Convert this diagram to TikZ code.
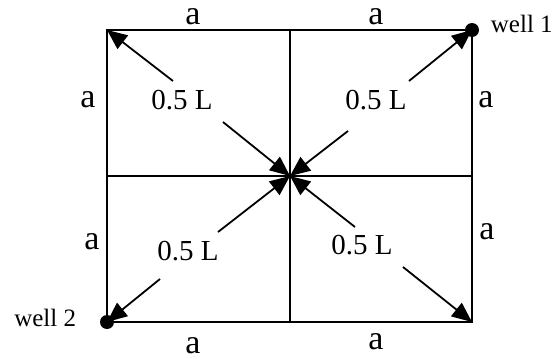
\documentclass[tikz,border=0pt]{standalone}
\usepackage{fontspec}
\setmainfont{Liberation Serif}
\usetikzlibrary{arrows.meta,positioning}

\begin{document}
\begin{tikzpicture}[x=0.5pt,y=-0.5pt,line width=0.9pt,
    dist/.style={-{Triangle[length=10pt,width=8.5pt]}},
    side/.style={font=\fontsize{17}{19}\selectfont,inner sep=1pt},
    lbl/.style={font=\fontsize{14.5}{16}\selectfont},
    wellname/.style={font=\fontsize{12.5}{14}\selectfont,inner sep=0pt}]
  \useasboundingbox (0,0) rectangle (558,359);
  % grid of four blocks
  \coordinate (TL) at (107,30);
  \coordinate (TR) at (472,30);
  \coordinate (BL) at (107,322);
  \coordinate (BR) at (472,322);
  \coordinate (C) at (290,176);
  \draw (TL) rectangle (BR);
  \draw (290,30) -- (290,322);
  \draw (107,176) -- (472,176);
  % side lengths
  \node[side] (aT1) at (193,17) {a};
  \node[side] (aT2) at (376,17) {a};
  \node[side] (aL1) at (88,100) {a};
  \node[side] (aL2) at (92,242) {a};
  \node[side] (aR1) at (486,100) {a};
  \node[side] (aR2) at (487,232) {a};
  \node[side] (aB1) at (193,346) {a};
  \node[side] (aB2) at (376,342) {a};
  % half diagonals
  \node[lbl] (dTL) at (182,100) {0.5 L};
  \node[lbl] (dTR) at (376,100) {0.5 L};
  \node[lbl] (dBL) at (188,251) {0.5 L};
  \node[lbl] (dBR) at (362,245) {0.5 L};
  \coordinate (sTL1) at (173,81);  \coordinate (sTL2) at (223,122);
  \coordinate (sTR1) at (409,81);  \coordinate (sTR2) at (348,131);
  \coordinate (sBL1) at (160,279); \coordinate (sBL2) at (218,232);
  \coordinate (sBR1) at (403,267); \coordinate (sBR2) at (355,227);
  \draw[dist] (sTL1) -- (TL);
  \draw[dist] (sTL2) -- (C);
  \draw[dist] (sTR1) -- (TR);
  \draw[dist] (sTR2) -- (C);
  \draw[dist] (sBL1) -- (BL);
  \draw[dist] (sBL2) -- (C);
  \draw[dist] (sBR1) -- (BR);
  \draw[dist] (sBR2) -- (C);
  % wells
  \fill (TR) circle (3.5pt);
  \fill (BL) circle (3.5pt);
  \node[wellname,anchor=west] (w1) at (490,24) {well 1};
  \node[wellname,anchor=east] (w2) at (77,318) {well 2};
\end{tikzpicture}
\end{document}
